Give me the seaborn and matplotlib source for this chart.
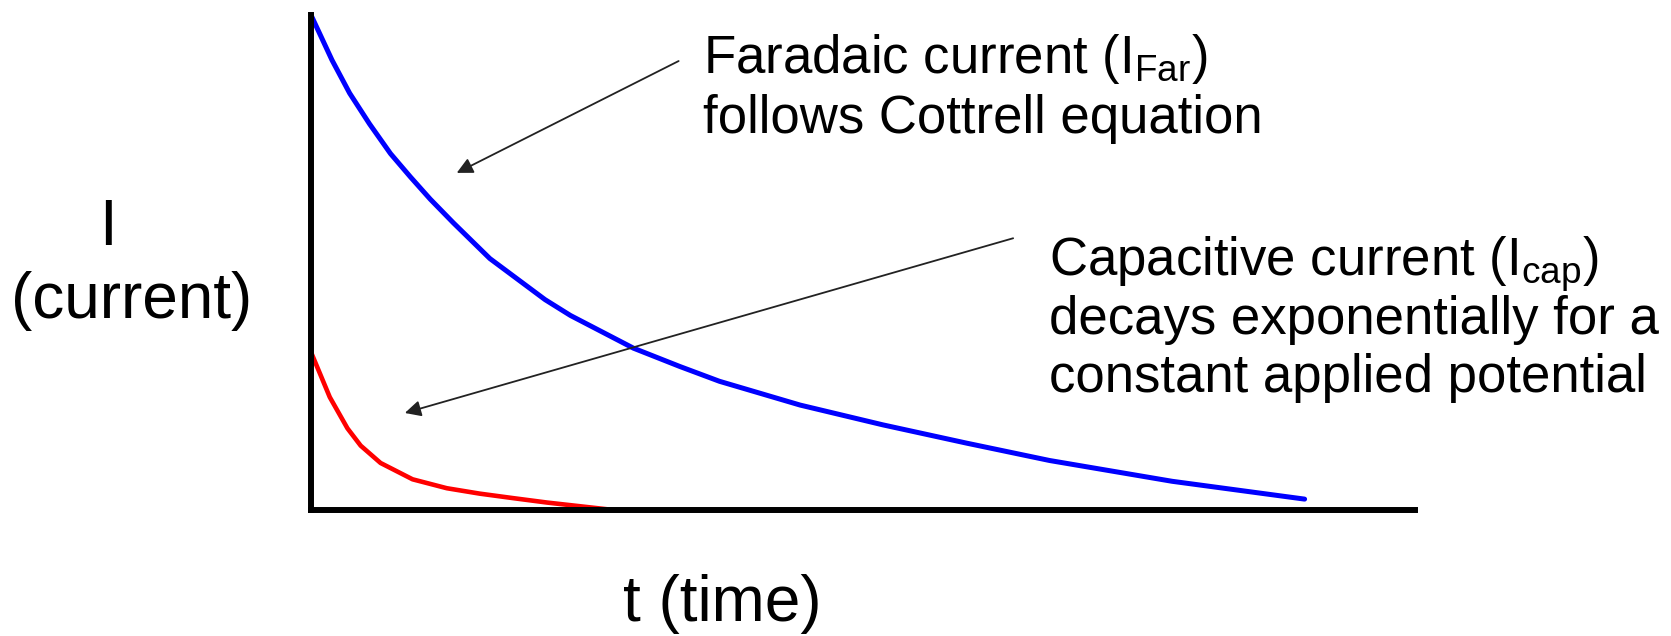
import matplotlib
matplotlib.use("Agg")
import matplotlib.pyplot as plt
import seaborn as sns

# curves (t and I in arbitrary units, axes run 0..10)
far_t = [0.00, 0.19, 0.35, 0.53, 0.72, 0.90, 1.08, 1.29, 1.62, 2.12, 2.35, 2.92,
         3.34, 3.70, 4.43, 5.18, 5.94, 6.69, 7.80, 9.00]
far_i = [10.00, 9.09, 8.42, 7.80, 7.20, 6.73, 6.28, 5.80, 5.08, 4.25, 3.93, 3.27,
         2.90, 2.60, 2.12, 1.72, 1.35, 1.00, 0.58, 0.22]

cap_t = [0.00, 0.17, 0.33, 0.45, 0.63, 0.92, 1.23, 1.53, 1.83, 2.14, 2.74]
cap_i = [3.19, 2.28, 1.65, 1.30, 0.95, 0.62, 0.44, 0.33, 0.24, 0.15, 0.00]

# arrow (start, tip) for each note
far_arrow = [(3.33, 9.07), (1.32, 6.81)]
cap_arrow = [(6.36, 5.49), (0.85, 1.96)]

far_note = ["Faradaic current (I$_{\\mathrm{Far}}$)", "follows Cottrell equation"]
cap_note = ["Capacitive current (I$_{\\mathrm{cap}}$)", "decays exponentially for a",
            "constant applied potential"]

sns.set_style("white")
plt.rcParams['font.family'] = ['Liberation Sans', 'DejaVu Sans']
plt.rcParams['mathtext.fontset'] = 'custom'
plt.rcParams['mathtext.rm'] = 'Liberation Sans'
plt.rcParams['mathtext.it'] = 'Liberation Sans:italic'
plt.rcParams['text.color'] = 'black'

W, H = 1671, 636
fig = plt.figure(figsize=(W / 100, H / 100), dpi=100)
ax = fig.add_axes([311 / W, 126 / H, 1104 / W, 495 / H])

sns.lineplot(x=far_t, y=far_i, sort=False, estimator=None, color="#0000ff",
             lw=3.6, ax=ax, clip_on=False, solid_capstyle="round",
             solid_joinstyle="round")
sns.lineplot(x=cap_t, y=cap_i, sort=False, estimator=None, color="#ff0000",
             lw=3.3, ax=ax, clip_on=False, solid_capstyle="round",
             solid_joinstyle="round")

ax.set_xlim(0, 10)
ax.set_ylim(0, 10)
ax.set_xticks([])
ax.set_yticks([])
ax.set_xlabel("")
ax.set_ylabel("")
for side in ["top", "right"]:
    ax.spines[side].set_visible(False)
for side in ["left", "bottom"]:
    ax.spines[side].set_linewidth(4.3)
    ax.spines[side].set_color("black")
    ax.spines[side].set_capstyle("projecting")

for start, tip in [far_arrow, cap_arrow]:
    ax.annotate("", xy=tip, xytext=start,
                arrowprops=dict(arrowstyle="-|>", color="#222222", lw=1.3,
                                mutation_scale=24, shrinkA=0, shrinkB=0))


def px_text(x, y, s, size, ha="left"):
    fig.text(x / W, 1 - y / H, s, fontsize=size, ha=ha, va="baseline",
             color="black")


for k, line in enumerate(far_note):
    px_text(703, 73 + 60 * k, line, 38)
for k, line in enumerate(cap_note):
    px_text(1049, 276 + 58 * k, line, 38)

px_text(108, 245, "I", 46, ha="center")
px_text(11, 318, "(current)", 46)
px_text(623, 621, "t (time)", 46)

fig.savefig("out.png", dpi=100)
